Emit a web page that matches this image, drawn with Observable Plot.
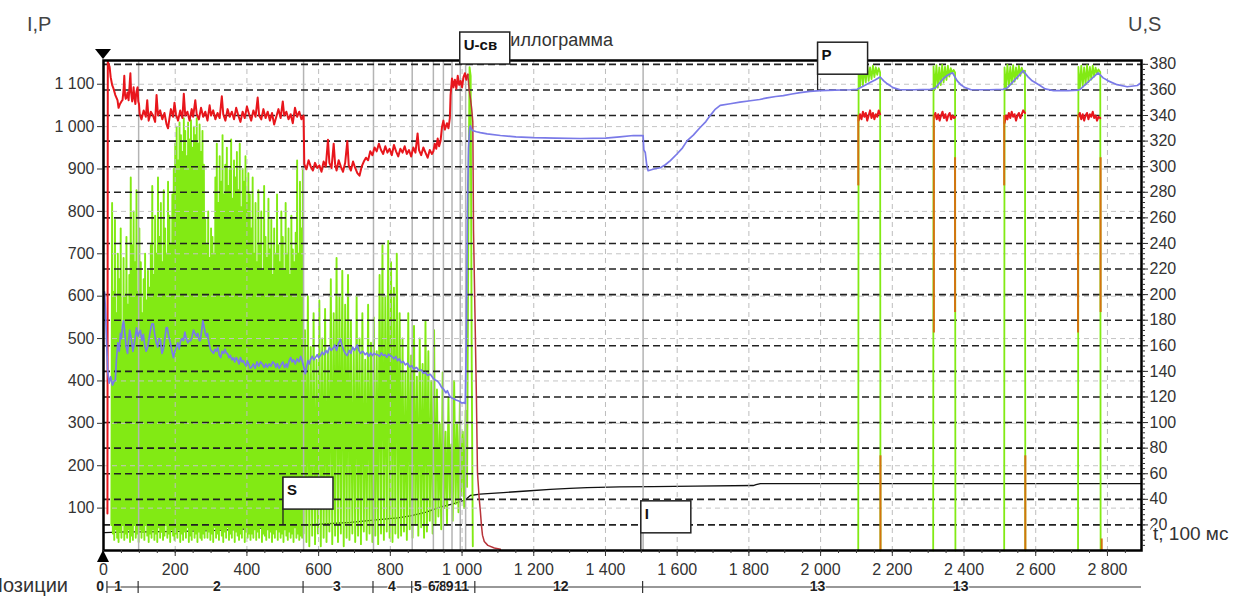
<!DOCTYPE html>
<html><head><meta charset="utf-8">
<script src="https://cdn.jsdelivr.net/npm/d3@7"></script>
<script src="https://cdn.jsdelivr.net/npm/@observablehq/plot@0.6"></script>
<style>
html,body{margin:0;padding:0;background:#fff;}
#chart{position:relative;width:1248px;height:599px;overflow:hidden;background:#fff}
</style></head><body><div id="chart"></div>
<script>
// ---------- axes / ticks ----------
const xTicks = [0,200,400,600,800,1000,1200,1400,1600,1800,2000,2200,2400,2600,2800];
const leftTicks = [100,200,300,400,500,600,700,800,900,1000,1100];
const rightTicks = [20,40,60,80,100,120,140,160,180,200,220,240,260,280,300,320,340,360,380];
const X_MAX = 2895, LEFT_MAX = 1156, RIGHT_MAX = 383;

// ---------- stage (position) row ----------
const posBounds = [11, 98, 558, 753, 861, 1037, 1505];
const stageLines = [98, 558, 753, 861, 920, 948, 972, 995, 1010, 1505];
const posLabels = ["0","1","2","3","4","5","6","7","8","9","11","12","13","13"];
const posLabelT = [-8, 42, 318, 652, 806, 878, 917, 934, 948, 967, 1000, 1277, 1993, 2392];

// ---------- I (green, left axis) : flashing stage, [t, I] pairs ----------
const iFlash = [22,60,24,820,26,40,28,610,30,25,32,780,34,50,36,560,38,30,40,700,42,20,44,640,46,45,48,760,50,30,52,520,54,60,56,690,58,25,60,600,62,40,64,740,66,30,68,580,70,50,72,650,74,20,
76,880,78,35,80,720,82,25,84,800,86,60,88,680,90,30,92,850,94,40,96,610,98,20,100,760,102,50,
104,680,106,30,108,560,110,45,112,640,114,25,116,700,118,60,120,590,122,35,124,660,126,20,128,620,130,40,
132,720,134,30,136,860,138,50,140,650,142,25,144,790,146,40,148,700,150,20,152,880,154,55,156,740,158,30,160,820,162,45,164,680,166,25,168,850,170,35,172,760,174,60,176,700,178,30,180,870,182,40,184,790,186,20,188,720,190,50,192,840,194,35,196,900,198,25,
200,960,202,40,204,1000,206,30,208,920,210,50,212,1010,214,20,216,980,218,40,220,940,222,25,224,1020,226,45,228,990,230,30,232,930,234,55,236,1010,238,20,240,970,242,35,244,1015,246,25,248,950,250,50,252,1000,254,30,256,980,258,40,260,1020,262,20,264,960,266,45,268,1005,270,30,272,940,274,25,276,990,278,40,280,910,282,30,
284,780,286,50,288,720,290,30,292,800,294,45,296,690,298,25,300,760,302,40,304,740,306,20,308,700,310,55,
312,880,314,30,316,960,318,40,320,820,322,25,324,930,326,50,328,870,330,35,332,980,334,20,336,840,338,45,340,910,342,30,344,950,346,55,348,860,350,25,352,900,354,40,356,970,358,30,360,830,362,50,364,920,366,20,368,880,370,45,372,940,374,35,376,850,378,25,380,960,382,40,384,810,386,30,388,900,390,55,392,870,394,20,396,930,398,45,400,820,402,30,404,890,406,40,408,840,410,25,
412,760,414,40,416,880,418,30,420,700,422,50,424,820,426,25,428,680,430,45,432,850,434,30,436,720,438,55,440,800,442,20,444,660,446,40,448,860,450,35,452,740,454,25,456,690,458,50,460,830,462,30,464,710,466,45,468,780,470,20,472,650,474,40,476,760,478,30,480,700,482,50,484,840,486,25,488,720,490,45,492,680,494,30,496,800,498,40,500,740,502,20,504,660,506,50,508,820,510,35,512,700,514,25,516,760,518,45,520,650,522,30,524,790,526,40,528,710,530,20,532,680,534,55,536,750,538,30,540,920,542,40,544,700,546,25,548,870,550,35,552,760,554,30,556,900,558,40,
562,520,566,20,570,600,574,10,578,480,582,35,586,560,590,15,594,450,598,40,602,590,606,10,610,500,614,30,618,570,622,20,626,470,630,45,
634,640,638,15,642,560,646,35,650,690,654,20,658,600,662,40,666,660,670,10,674,580,678,30,682,650,686,25,
690,540,694,40,698,470,702,20,706,600,710,35,714,500,718,15,722,560,726,45,730,450,734,25,738,580,742,40,746,490,750,20,754,550,758,35,762,470,766,15,
770,650,774,40,778,720,782,25,786,600,790,45,794,730,798,30,802,680,806,20,810,620,814,40,818,700,822,30,826,560,
830,35,834,500,838,45,842,420,846,25,850,560,854,50,858,460,862,30,866,530,870,60,874,410,878,35,882,500,886,55,890,440,894,30,898,540,902,45,906,470,910,70,914,400,918,40,922,520,926,60,
930,380,934,80,938,300,942,50,946,420,950,100,954,280,958,60,962,360,966,120,970,250,974,70,978,400,982,110,986,300,990,90,994,350,998,130,1002,280,1006,100,1010,330,1014,150,1018,830,1021,1140,1024,1120,1027,440,1030,10];

// I pulses (stage 13)
const iPulse1 = [2105,0,2106,1140,2110,1095,2114,1145,2118,1098,2122,1142,2126,1104,2130,1146,2134,1108,2138,1140,2142,1112,2146,1144,2150,1117,2154,1140,2158,1122,2162,1138,2166,1128,2167,0];
const iPulse2 = [2314,0,2315,1142,2319,1088,2323,1145,2327,1092,2331,1140,2335,1098,2339,1146,2343,1104,2347,1141,2351,1110,2355,1144,2359,1118,2363,1138,2367,1126,2371,1134,2375,1128,2376,0];
const iPulse3 = [2512,0,2513,1140,2517,1090,2521,1146,2525,1095,2529,1141,2533,1100,2537,1145,2541,1106,2545,1140,2549,1113,2553,1144,2557,1120,2561,1139,2565,1127,2570,1132,2571,0];
const iPulse4 = [2718,0,2719,1141,2723,1089,2727,1144,2731,1094,2735,1140,2739,1099,2743,1145,2747,1105,2751,1141,2755,1111,2759,1144,2763,1118,2767,1139,2771,1125,2775,1135,2780,1129,2781,0];

// ---------- U-св (red, right axis, V) ----------
const uMain = [11,29,12,382,17,378,20,370,24,364,28,361,33,356,39,352,42,346,46,349,50,351,53,352,56,360,58,371,60,356,62,353,64,354,67,358,70,352,73,365,75,373,77,358,80,351,82,356,84,362,86,354,89,349,91,357,93,360,95,362,97,351,99,349,
101,341,106,337,112,344,118,339,122,352,126,336,132,343,138,340,144,335,148,356,152,340,158,344,164,337,170,342,176,333,180,330,184,338,188,345,194,339,198,350,202,341,208,336,214,344,220,338,224,357,228,340,234,343,240,336,246,345,250,339,256,352,260,341,266,337,272,346,278,339,284,343,290,336,296,348,300,340,306,344,312,337,318,342,324,338,330,355,334,341,340,336,346,345,352,339,358,343,364,337,370,346,376,340,382,335,388,343,394,338,400,347,406,341,412,336,418,344,424,339,430,354,434,340,440,337,446,345,452,338,458,343,464,336,470,342,476,333,482,339,488,345,494,338,500,351,504,340,510,343,516,337,522,341,528,334,534,346,540,339,546,343,552,337,558,340,
560,302,566,298,572,305,578,300,584,297,590,303,596,299,602,301,608,296,614,304,620,300,626,321,630,303,636,299,642,318,646,302,650,297,656,305,662,300,668,296,674,303,680,320,684,301,690,297,696,304,702,299,708,295,714,293,720,300,726,304,732,307,738,305,744,312,750,309,756,315,762,312,768,318,774,313,780,310,786,316,792,311,798,314,804,309,810,317,816,312,822,308,828,314,834,311,840,316,846,310,852,313,858,308,864,315,870,311,876,326,880,313,886,309,892,315,898,311,904,307,910,313,916,310,920,312,
924,318,928,314,932,322,936,316,940,320,944,331,948,336,952,329,958,334,962,330,966,338,968,356,972,369,976,362,980,368,984,361,988,371,992,364,996,367,1000,362,1004,370,1008,373,1012,368,1016,372];
const uFall = [1016,372,1020,360,1024,352,1027,345,1030,335,1032,250,1036,186,1040,120,1043,61,1048,40,1051,31,1054,20,1057,12,1062,7,1072,4,1090,2,1107,1];
const uPulse1 = [2106,336,2110,341,2114,337,2118,343,2122,339,2126,342,2130,336,2134,340,2138,344,2142,338,2146,342,2150,337,2154,341,2158,339,2162,344,2166,341];
const uPulse2 = [2316,338,2320,342,2324,337,2328,341,2332,336,2336,340,2340,343,2344,338,2348,341,2352,336,2356,340,2360,342,2364,337,2368,340,2372,338,2375,339];
const uPulse3 = [2513,334,2517,340,2521,337,2525,342,2529,338,2533,343,2537,339,2541,341,2545,336,2549,340,2553,342,2557,338,2561,341,2565,344,2570,342];
const uPulse4 = [2719,339,2723,342,2727,337,2731,341,2735,336,2739,340,2743,342,2747,337,2751,341,2755,339,2759,343,2763,338,2767,340,2771,336,2775,339,2780,338];
// switching drops (orange), right-axis units
const dropT = [2105, 2167, 2316, 2375, 2512, 2571, 2718, 2781, 2784];
const dropTop = [340, 74, 340, 307, 340, 74, 340, 307, 9];
const dropBottom = [285, 0, 170, 186, 285, 0, 170, 186, 0];

// ---------- P (blue, left axis) ----------
const pMain = [3,610,6,560,9,480,12,420,16,395,20,410,25,390,30,400,33,401,36,450,40,490,44,470,47,512,50,500,53,530,56,542,60,510,63,480,67,465,70,495,73,520,75,512,79,490,82,470,84,479,88,500,92,525,96,505,100,515,103,519,107,495,111,510,115,485,119,470,123,479,127,500,131,520,135,535,139,535,143,510,147,490,151,480,155,500,159,495,163,465,167,475,171,500,175,526,178,526,182,505,187,488,191,470,195,455,199,470,203,479,207,490,211,475,215,495,219,500,223,495,227,515,231,500,235,490,239,495,243,495,247,505,251,520,255,512,259,505,263,512,267,495,270,495,274,520,277,542,280,530,284,512,287,505,290,512,294,490,298,475,302,470,307,465,311,475,315,470,319,479,323,460,327,455,331,470,335,465,339,475,343,465,346,465,350,455,354,460,358,450,362,455,366,445,370,455,374,450,378,440,382,455,386,445,390,448,394,440,398,435,401,448,405,440,409,430,413,432,418,440,423,430,428,445,433,435,438,445,443,440,448,432,453,440,457,432,462,440,467,435,472,445,477,441,481,432,485,441,490,430,495,438,500,445,505,432,510,440,513,432,518,448,522,455,526,445,530,450,535,440,540,452,545,445,550,458,553,450,557,438,560,428,563,417,567,435,570,448,574,440,577,450,582,458,587,450,591,455,596,462,600,455,605,460,610,468,615,462,620,472,625,466,630,480,635,472,641,478,645,485,650,472,655,488,661,498,665,485,670,472,675,464,680,460,685,472,690,465,695,480,700,472,705,480,708,485,712,472,717,465,722,470,725,468,730,462,735,466,740,458,745,466,750,460,755,465,760,462,764,462,770,458,775,466,780,460,785,462,790,456,795,463,800,460,805,457,810,452,815,458,820,448,825,452,830,443,836,446,842,438,848,442,854,433,860,436,866,428,872,432,875,430,880,424,886,426,892,418,898,420,904,413,910,416,912,415,918,408,924,403,931,400,937,394,943,385,949,380,955,372,959,377,965,365,971,360,977,358,983,355,987,354,993,352,999,348,1005,349,1009,347,1012,500,1015,800,1018,950,1021,995,1023,1002,1026,995,1029,991,1040,988,1051,986,1070,983,1107,979,1150,976,1199,974,1260,973,1330,972,1400,973,1440,976,1478,979,1505,979,1507,945,1511,939,1515,910,1519,896,1535,900,1553,903,1567,910,1581,920,1600,936,1615,950,1628,967,1645,980,1664,998,1680,1012,1692,1026,1705,1040,1720,1050,1748,1054,1775,1058,1804,1061,1830,1064,1851,1068,1875,1071,1896,1073,1920,1077,1943,1080,1970,1083,1999,1085,2040,1086,2083,1087,2102,1088,2120,1096,2138,1104,2152,1110,2166,1117,2176,1108,2186,1101,2202,1092,2222,1087,2260,1087,2306,1088,2320,1091,2342,1113,2355,1122,2368,1127,2381,1108,2392,1098,2403,1092,2420,1087,2470,1087,2509,1088,2520,1091,2548,1116,2565,1132,2578,1118,2590,1108,2612,1097,2626,1089,2650,1085,2690,1085,2718,1086,2724,1088,2752,1110,2774,1127,2788,1115,2802,1108,2827,1099,2855,1094,2883,1097,2895,1104];

// ---------- S (black, right axis) ----------
const sMain = [3,14,60,14.5,120,14.5,215,15,300,15.5,410,17,470,18,521,19,600,20.5,689,22,760,24,820,25.5,856,27,900,30,940,34,975,36.5,1004,39,1015,41,1023,43,1050,44,1071,44.5,1115,45.3,1180,46.5,1246,47.7,1300,48.5,1349,49.2,1440,49.7,1533,50,1650,50.3,1812,50.8,1820,51.5,1832,52.3,2895,52.3];

// ---------- marker boxes (anchor t, value on left scale) ----------
const boxNames = ["U-св", "P", "S", "I"];
const boxT = [995, 1993, 502, 1500];
const boxV = [1222, 1198, 172, 116];
const boxLegTo = [null, 1085, 59, 0];

// ---------- build ----------
const K = LEFT_MAX / RIGHT_MAX;
const pairs = (a, extra = {}) => { const o = []; for (let i = 0; i < a.length; i += 2) o.push({t: a[i], v: a[i+1], ...extra}); return o; };
const rightPairs = (a, extra = {}) => pairs(a, extra).map(d => ({...d, v: d.v * K}));
const fmt = d => d3.format(",")(d).replace(/,/g, " ");
const FONT = "'Liberation Sans', Arial, Helvetica, sans-serif";

const iPulses = [iPulse1, iPulse2, iPulse3, iPulse4].flatMap((a, i) => pairs(a, {p: i}));
const uPulses = [uPulse1, uPulse2, uPulse3, uPulse4].flatMap((a, i) => rightPairs(a, {p: i}));
const drops = dropT.map((t, i) => ({t, y1: dropTop[i] * K, y2: dropBottom[i] * K}));

const GREEN = "#82ea14", RED = "#e8161c", BLUE = "#7a7ae8", ORANGE = "#d2730f";

const plot = Plot.plot({
  width: 1248, height: 599,
  marginLeft: 103, marginRight: 107, marginTop: 60, marginBottom: 49,
  x: {domain: [0, X_MAX], axis: null},
  y: {domain: [0, LEFT_MAX], axis: null},
  style: {fontFamily: FONT, fontSize: "16px", background: "#fff", color: "#333", overflow: "visible"},
  marks: [
    Plot.line(pairs(sMain), {x: "t", y: d => d.v * K, stroke: "#111", strokeWidth: 1.3}),
    Plot.line(pairs(iFlash), {x: "t", y: "v", stroke: GREEN, strokeWidth: 1.9}),
    Plot.ruleX(xTicks.slice(1), {stroke: "#bdbdbd", strokeDasharray: "5,4", strokeWidth: 1}),
    Plot.ruleX(stageLines, {stroke: "#b4b4b4", strokeWidth: 1.5}),
    Plot.ruleY(leftTicks, {stroke: "#c4c4c4", strokeDasharray: "5,4", strokeWidth: 1}),
    Plot.ruleY(rightTicks.map(r => r * K), {stroke: "#222", strokeDasharray: "7,4", strokeWidth: 1.6}),
    Plot.line(iPulses, {x: "t", y: "v", z: "p", stroke: GREEN, strokeWidth: 1.8}),
    Plot.line(rightPairs(uMain), {x: "t", y: "v", stroke: RED, strokeWidth: 2}),
    Plot.line(rightPairs(uFall), {x: "t", y: "v", stroke: "#b8343a", strokeWidth: 1.5}),
    Plot.line(uPulses, {x: "t", y: "v", z: "p", stroke: RED, strokeWidth: 2}),
    Plot.ruleX(drops, {x: "t", y1: "y1", y2: "y2", stroke: ORANGE, strokeWidth: 2}),
    Plot.line(pairs(pMain), {x: "t", y: "v", stroke: BLUE, strokeWidth: 1.7}),
    Plot.frame({stroke: "#000", strokeWidth: 2.5}),
    Plot.axisY({ticks: leftTicks, tickFormat: fmt, tickSize: 6, tickPadding: 3, color: "#333", fontSize: 16, label: null}),
    Plot.axisY({anchor: "right", ticks: rightTicks.map(r => r * K), tickFormat: d => String(Math.round(d / K)), tickSize: 6, tickPadding: 2, color: "#333", fontSize: 16, label: null}),
    Plot.axisY({anchor: "right", ticks: d3.range(4, RIGHT_MAX, 4).map(r => r * K), tickFormat: () => "", tickSize: 3, color: "#333", label: null}),
    Plot.axisX({ticks: xTicks, tickFormat: fmt, tickSize: 6, tickPadding: 7, color: "#333", fontSize: 16, label: null}),
    Plot.axisX({ticks: d3.range(50, X_MAX, 50), tickFormat: () => "", tickSize: 3, color: "#333", label: null})
  ]
});
document.getElementById("chart").appendChild(plot);

// ---------- annotations ----------
const xs = plot.scale("x"), ys = plot.scale("y");
const X = v => xs.apply(v), Y = v => ys.apply(v);
const svg = d3.select(plot);
const ann = svg.append("g").attr("font-family", FONT).attr("text-anchor", "start");
const halo = sel => sel.attr("stroke", "#fff").attr("stroke-width", 5).attr("paint-order", "stroke").attr("stroke-linejoin", "round");
const txt = (x, y, s, size, anchor = "start") => ann.append("text").attr("x", x).attr("y", y).attr("text-anchor", anchor).attr("dominant-baseline", "middle").attr("font-size", size).attr("fill", "#444").text(s);

txt(27, 26, "I,P", 20);
txt(1128, 26, "U,S", 20);
txt(613, 41, "Осциллограмма", 18, "end").attr("fill", "#333");
txt(1153, 535, "t, 100 мс", 19).attr("fill", "#333").call(halo);

// triangles at the origin
const x0 = X(0);
ann.append("path").attr("d", `M${x0-8},49 L${x0+8},49 L${x0},59 Z`).attr("fill", "#000");
ann.append("path").attr("d", `M${x0},550 L${x0-6},562 L${x0+6},562 Z`).attr("fill", "#000");

// positions row
const rowY = 587;
txt(68, rowY, "Позиции", 20, "end").attr("fill", "#333");
ann.append("line").attr("x1", X(posBounds[0])).attr("x2", X(X_MAX)).attr("y1", rowY).attr("y2", rowY).attr("stroke", "#333").attr("stroke-width", 1.2);
posBounds.forEach(b => ann.append("line").attr("x1", X(b)).attr("x2", X(b)).attr("y1", rowY - 6).attr("y2", rowY + 6).attr("stroke", "#333").attr("stroke-width", 1.2));
posLabels.forEach((s, i) => txt(X(posLabelT[i]), rowY, s, 14, "middle").attr("font-weight", "bold").attr("fill", "#222").attr("stroke", "#fff").attr("stroke-width", 2).attr("paint-order", "stroke"));

// marker boxes
boxNames.forEach((name, i) => {
  const bx = X(boxT[i]), by = Y(boxV[i]);
  if (boxLegTo[i] !== null) ann.append("line").attr("x1", bx).attr("x2", bx).attr("y1", by).attr("y2", Y(boxLegTo[i])).attr("stroke", "#222").attr("stroke-width", 1.3);
  ann.append("rect").attr("x", bx).attr("y", by).attr("width", 50).attr("height", 32).attr("fill", "#fff").attr("stroke", "#222").attr("stroke-width", 1.5);
  txt(bx + 4, by + 14, name, 15).attr("font-weight", "bold").attr("fill", "#111");
});
</script></body></html>
